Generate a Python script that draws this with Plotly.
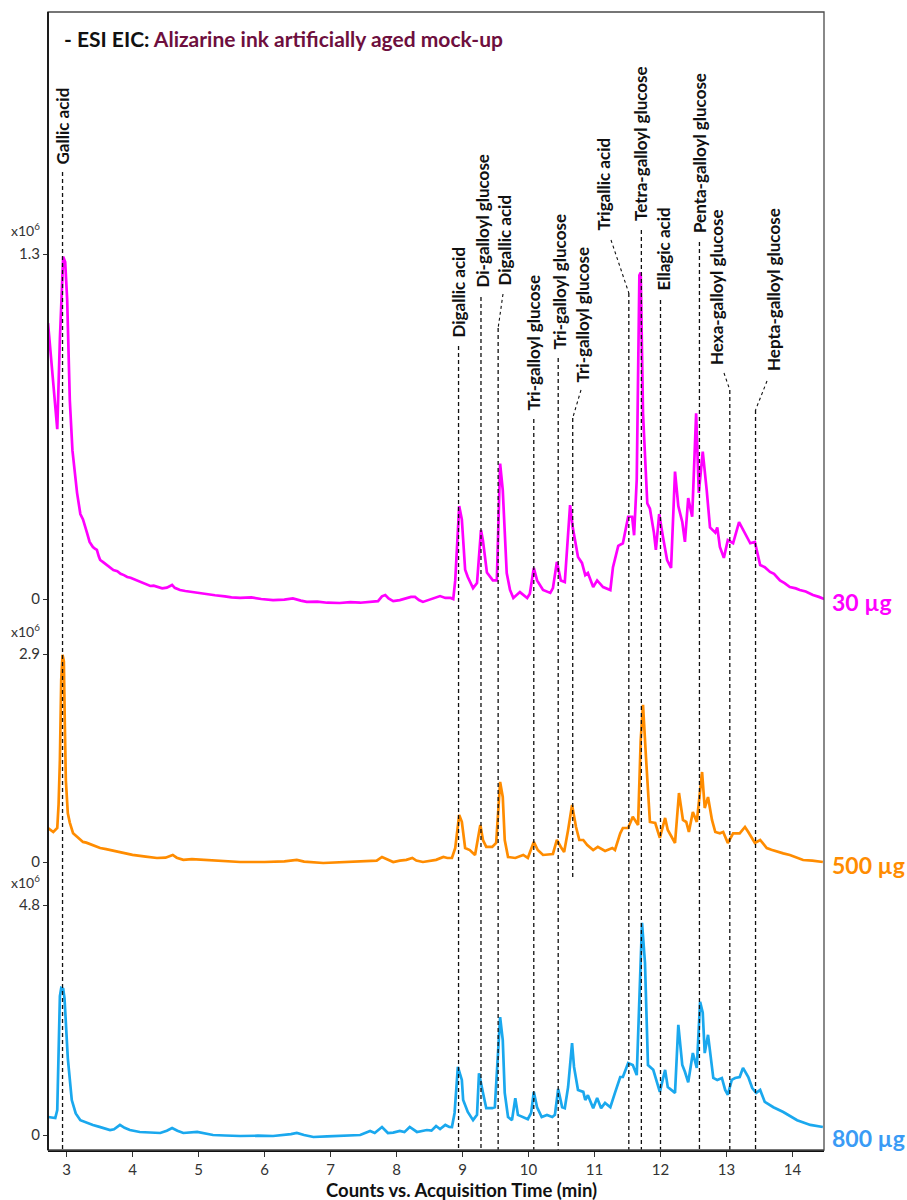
import plotly.graph_objects as go

# ---------------------------------------------------------------
# EIC traces: retention time (min), intensity (x10^6 counts)
# ---------------------------------------------------------------
eic_30ug = [
    (2.72, 1.04), (2.78, 0.86), (2.86, 0.64), (2.90, 0.98), (2.93, 1.22), (2.95, 1.29), (2.98, 1.27),
    (3.01, 1.13), (3.05, 0.75), (3.09, 0.56), (3.16, 0.40), (3.21, 0.32), (3.25, 0.30), (3.28, 0.27),
    (3.31, 0.25), (3.35, 0.215), (3.40, 0.196), (3.43, 0.19), (3.46, 0.185), (3.49, 0.16), (3.51, 0.147),
    (3.55, 0.14), (3.60, 0.13), (3.65, 0.122), (3.71, 0.109), (3.77, 0.105), (3.82, 0.095), (3.87, 0.09),
    (3.92, 0.083), (3.97, 0.08), (4.01, 0.076), (4.06, 0.07), (4.11, 0.064), (4.17, 0.06), (4.22, 0.052),
    (4.27, 0.049), (4.32, 0.05), (4.37, 0.045), (4.45, 0.04), (4.52, 0.043), (4.57, 0.05), (4.60, 0.053),
    (4.64, 0.042), (4.72, 0.034), (4.80, 0.03), (4.90, 0.026), (5.00, 0.022), (5.13, 0.019), (5.25, 0.014),
    (5.40, 0.01), (5.50, 0.006), (5.63, 0.004), (5.80, 0.006), (5.95, 0.0), (6.13, -0.004), (6.30, -0.002),
    (6.43, 0.002), (6.55, -0.006), (6.64, -0.011), (6.80, -0.01), (6.95, -0.014), (7.14, -0.015),
    (7.30, -0.012), (7.45, -0.014), (7.60, -0.011), (7.72, -0.008), (7.78, 0.01), (7.83, 0.015),
    (7.88, 0.002), (7.95, -0.008), (8.05, -0.004), (8.15, 0.002), (8.22, 0.008), (8.28, 0.008),
    (8.34, -0.004), (8.40, -0.011), (8.50, -0.002), (8.58, 0.006), (8.66, 0.011), (8.74, 0.004),
    (8.82, 0.004), (8.86, 0.0), (8.89, 0.07), (8.95, 0.35), (8.99, 0.30), (9.04, 0.11), (9.08, 0.083),
    (9.16, 0.041), (9.22, 0.06), (9.28, 0.26), (9.31, 0.22), (9.37, 0.10), (9.46, 0.07), (9.52, 0.07),
    (9.57, 0.51), (9.61, 0.41), (9.67, 0.098), (9.72, 0.034), (9.77, 0.004), (9.87, 0.026), (9.98, 0.004),
    (10.02, 0.02), (10.08, 0.117), (10.13, 0.07), (10.22, 0.034), (10.33, 0.023), (10.37, 0.041),
    (10.43, 0.14), (10.49, 0.07), (10.55, 0.064), (10.63, 0.354), (10.67, 0.27), (10.75, 0.158),
    (10.81, 0.136), (10.86, 0.09), (10.90, 0.098), (10.98, 0.045), (11.04, 0.07), (11.13, 0.045),
    (11.24, 0.034), (11.28, 0.12), (11.36, 0.20), (11.43, 0.21), (11.51, 0.31), (11.57, 0.31),
    (11.60, 0.24), (11.64, 0.45), (11.68, 1.22), (11.70, 1.23), (11.735, 0.70), (11.80, 0.36),
    (11.84, 0.34), (11.90, 0.25), (11.93, 0.185), (11.98, 0.32), (12.04, 0.23), (12.10, 0.147),
    (12.16, 0.117), (12.22, 0.48), (12.27, 0.35), (12.33, 0.29), (12.37, 0.215), (12.42, 0.38),
    (12.48, 0.31), (12.54, 0.70), (12.58, 0.40), (12.64, 0.555), (12.70, 0.41), (12.75, 0.27),
    (12.83, 0.25), (12.86, 0.27), (12.90, 0.196), (12.96, 0.155), (13.02, 0.222), (13.10, 0.21),
    (13.19, 0.29), (13.28, 0.25), (13.36, 0.21), (13.43, 0.215), (13.51, 0.128), (13.58, 0.12),
    (13.66, 0.102), (13.72, 0.095), (13.81, 0.07), (13.88, 0.06), (13.96, 0.045), (14.05, 0.04),
    (14.11, 0.034), (14.20, 0.028), (14.31, 0.015), (14.40, 0.008), (14.48, 0.0),
]

eic_500ug = [
    (2.72, 0.474), (2.80, 0.418), (2.86, 0.474), (2.88, 0.80), (2.90, 1.42), (2.92, 2.54), (2.94, 2.89),
    (2.96, 2.80), (2.975, 1.90), (2.99, 1.14), (3.02, 0.68), (3.05, 0.55), (3.10, 0.40), (3.15, 0.36),
    (3.20, 0.33), (3.25, 0.28), (3.30, 0.27), (3.40, 0.23), (3.51, 0.195), (3.60, 0.18), (3.70, 0.16),
    (3.86, 0.125), (4.00, 0.10), (4.20, 0.075), (4.37, 0.056), (4.50, 0.06), (4.61, 0.098), (4.67, 0.06),
    (4.77, 0.03), (4.90, 0.04), (5.13, 0.03), (5.30, 0.02), (5.63, 0.0), (6.00, 0.0), (6.30, 0.01),
    (6.49, 0.028), (6.60, 0.005), (6.89, -0.014), (7.10, -0.005), (7.40, 0.0), (7.60, 0.01), (7.70, 0.02),
    (7.78, 0.07), (7.87, 0.03), (7.95, 0.0), (8.05, 0.02), (8.15, 0.03), (8.24, 0.056), (8.30, 0.02),
    (8.40, 0.0), (8.50, 0.02), (8.60, 0.03), (8.71, 0.07), (8.77, 0.056), (8.84, 0.056), (8.89, 0.195),
    (8.95, 0.655), (8.99, 0.56), (9.04, 0.195), (9.11, 0.167), (9.19, 0.098), (9.27, 0.516), (9.31, 0.307),
    (9.36, 0.21), (9.45, 0.21), (9.51, 0.265), (9.57, 1.116), (9.61, 0.906), (9.64, 0.307), (9.69, 0.07),
    (9.80, 0.056), (9.92, 0.098), (9.99, 0.056), (10.08, 0.28), (10.14, 0.167), (10.22, 0.098),
    (10.37, 0.112), (10.43, 0.307), (10.49, 0.21), (10.54, 0.14), (10.60, 0.446), (10.66, 0.795),
    (10.72, 0.488), (10.77, 0.307), (10.83, 0.307), (10.89, 0.237), (10.98, 0.167), (11.05, 0.21),
    (11.16, 0.153), (11.27, 0.195), (11.31, 0.167), (11.39, 0.40), (11.43, 0.474), (11.51, 0.474),
    (11.58, 0.63), (11.66, 0.516), (11.70, 1.70), (11.735, 2.19), (11.78, 1.46), (11.84, 0.558),
    (11.92, 0.544), (11.99, 0.335), (12.07, 0.614), (12.11, 0.446), (12.22, 0.265), (12.28, 0.962),
    (12.34, 0.586), (12.39, 0.558), (12.43, 0.418), (12.49, 0.697), (12.55, 0.558), (12.63, 1.255),
    (12.67, 0.753), (12.72, 0.906), (12.78, 0.586), (12.83, 0.418), (12.90, 0.40), (12.95, 0.418),
    (13.02, 0.265), (13.10, 0.40), (13.20, 0.40), (13.28, 0.488), (13.33, 0.418), (13.43, 0.265),
    (13.51, 0.307), (13.61, 0.195), (13.68, 0.17), (13.77, 0.14), (13.86, 0.12), (13.96, 0.098),
    (14.05, 0.07), (14.16, 0.028), (14.30, 0.02), (14.46, 0.0),
]

eic_800ug = [
    (2.72, 0.376), (2.83, 0.355), (2.86, 0.52), (2.88, 1.77), (2.90, 2.90), (2.92, 3.07), (2.95, 3.05),
    (2.97, 2.85), (2.99, 2.30), (3.02, 1.60), (3.08, 0.73), (3.14, 0.45), (3.21, 0.31), (3.30, 0.26),
    (3.40, 0.21), (3.50, 0.17), (3.58, 0.13), (3.66, 0.104), (3.72, 0.12), (3.81, 0.21), (3.88, 0.15),
    (3.96, 0.104), (4.11, 0.063), (4.25, 0.055), (4.42, 0.042), (4.52, 0.09), (4.60, 0.146), (4.68, 0.09),
    (4.77, 0.042), (4.98, 0.063), (5.10, 0.03), (5.22, 0.0), (5.40, -0.01), (5.63, -0.021), (5.90, -0.015),
    (6.13, -0.021), (6.40, 0.02), (6.49, 0.042), (6.60, 0.0), (6.74, -0.042), (6.95, -0.03), (7.14, -0.021),
    (7.30, -0.02), (7.45, 0.0), (7.60, 0.084), (7.67, 0.042), (7.78, 0.167), (7.87, 0.042), (7.95, 0.05),
    (8.05, 0.084), (8.12, 0.06), (8.20, 0.167), (8.31, 0.063), (8.40, 0.08), (8.46, 0.104), (8.53, 0.09),
    (8.60, 0.188), (8.66, 0.125), (8.74, 0.21), (8.80, 0.17), (8.84, 0.167), (8.88, 0.46), (8.93, 1.42),
    (8.99, 1.15), (9.01, 0.73), (9.08, 0.48), (9.16, 0.31), (9.22, 0.42), (9.25, 1.29), (9.31, 0.88),
    (9.36, 0.56), (9.45, 0.56), (9.49, 0.58), (9.57, 2.46), (9.61, 1.98), (9.64, 0.88), (9.69, 0.376),
    (9.75, 0.31), (9.80, 0.77), (9.84, 0.42), (9.92, 0.376), (9.99, 0.33), (10.04, 0.46), (10.08, 0.90),
    (10.13, 0.58), (10.20, 0.376), (10.28, 0.42), (10.36, 0.376), (10.40, 0.42), (10.45, 0.96),
    (10.51, 0.58), (10.55, 0.56), (10.60, 1.00), (10.66, 1.92), (10.69, 1.42), (10.75, 0.94),
    (10.83, 0.90), (10.86, 0.73), (10.90, 0.83), (10.98, 0.56), (11.04, 0.77), (11.10, 0.56),
    (11.16, 0.67), (11.24, 0.58), (11.31, 0.88), (11.39, 1.21), (11.43, 1.21), (11.51, 1.50),
    (11.58, 1.46), (11.64, 1.25), (11.69, 3.24), (11.72, 4.43), (11.765, 3.59), (11.81, 1.46),
    (11.89, 1.36), (11.99, 0.90), (12.07, 1.36), (12.11, 1.00), (12.22, 0.88), (12.27, 2.30),
    (12.33, 1.46), (12.37, 1.32), (12.42, 1.10), (12.49, 1.71), (12.55, 1.40), (12.60, 2.78),
    (12.64, 2.55), (12.67, 1.71), (12.72, 2.09), (12.80, 1.19), (12.86, 1.15), (12.93, 1.19),
    (12.98, 0.94), (13.02, 0.84), (13.08, 1.15), (13.13, 1.19), (13.20, 1.21), (13.25, 1.40),
    (13.33, 1.21), (13.39, 0.98), (13.45, 0.88), (13.51, 0.94), (13.58, 0.69), (13.71, 0.58),
    (13.86, 0.48), (14.07, 0.31), (14.27, 0.21), (14.46, 0.167),
]

sample_labels = ["30 µg", "500 µg", "800 µg"]
panel_max = [1.3, 2.9, 4.8]          # top tick of each panel (x10^6)
x_ticks = list(range(3, 15))

# identified compounds and retention times (min)
compound_names = [
    "Gallic acid", "Digallic acid", "Di-galloyl glucose", "Digallic acid",
    "Tri-galloyl glucose", "Tri-galloyl glucose", "Tri-galloyl glucose",
    "Trigallic acid", "Tetra-galloyl glucose", "Ellagic acid",
    "Penta-galloyl glucose", "Hexa-galloyl glucose", "Hepta-galloyl glucose",
]
compound_rt = [2.94, 8.94, 9.28, 9.54, 10.08, 10.45, 10.67, 11.52, 11.71, 12.00, 12.59, 13.05, 13.44]

# ---------------------------------------------------------------
# page geometry (pixels)
# ---------------------------------------------------------------
W, H = 907, 1200
PL, PR, PT, PB = 48, 824, 12, 1150   # frame edges


def ypap(py):
    return (PB - py) / (PB - PT)


def xdat(px):
    return 3 + (px - 66.5) / 66.0


# panel: zero pixel, top-tick pixel, panel bottom pixel, panel top pixel
panel_px = [(599, 254, 610, PT), (862, 654, 870, 610), (1135, 905, PB, 870)]
colors = ["#FF00FF", "#FF8C00", "#1AA8EE"]
label_colors = ["#FF00FF", "#FF8C00", "#3A9BF5"]

fig = go.Figure()
series = [eic_30ug, eic_500ug, eic_800ug]
for k, data in enumerate(series):
    t, v = zip(*data)
    fig.add_trace(go.Scatter(
        x=list(t), y=list(v), mode="lines",
        line=dict(color=colors[k], width=2.7),
        xaxis="x", yaxis="y" if k == 0 else f"y{k + 1}",
        showlegend=False, hoverinfo="skip",
    ))

FONT = "Lato"
tick_font = dict(family=FONT, size=15, color="#333333")

layout_axes = {}
annotations = []
for k, (zero_px, top_px, bot_px, hi_px) in enumerate(panel_px):
    per_px = panel_max[k] / (zero_px - top_px)
    lo = (zero_px - bot_px) * per_px
    hi = (zero_px - hi_px) * per_px
    name = "yaxis" if k == 0 else f"yaxis{k + 1}"
    layout_axes[name] = dict(
        domain=[ypap(bot_px), ypap(hi_px)], range=[lo, hi], anchor="x",
        tickvals=[0, panel_max[k]], ticktext=["0", f"{panel_max[k]:.1f}"],
        ticks="outside", ticklen=4, tickcolor="#333333", tickwidth=1,
        showline=False, showgrid=False, zeroline=False, tickfont=tick_font,
    )
    # exponent marker above the top tick
    annotations.append(dict(
        xref="paper", yref="paper", x=-6 / (PR - PL), y=ypap(top_px - 24),
        xanchor="right", yanchor="middle", showarrow=False,
        text="x10<sup>6</sup>", font=dict(family=FONT, size=14, color="#333333"),
    ))
    # sample amount label on the right
    annotations.append(dict(
        xref="paper", yref="paper", x=(830 - PL) / (PR - PL), y=ypap(zero_px + 3),
        xanchor="left", yanchor="middle", showarrow=False,
        text=sample_labels[k],
        font=dict(family=FONT, size=23, color=label_colors[k], weight="bold"),
    ))

# label placement: (label x px, label bottom px, leader start px or None, line start px, line end px)
label_place = [
    (62, 167, None, 172, PB),
    (458, 340, None, 346, PB),
    (482, 290, None, 297, PB),
    (504, 288, (503, 294), 328, PB),
    (533, 413, None, 419, PB),
    (559, 352, None, 358, PB),
    (582, 385, (581, 390), 418, 878),
    (603, 233, (611, 240), 293, PB),
    (640.5, 223, None, 230, PB),
    (663, 293, None, 300, PB),
    (700, 235, None, 242, PB),
    (716, 367, (724, 373), 390, PB),
    (773.5, 373, (767, 381), 410, PB),
]

shapes = []
dash_style = dict(color="#111111", width=1.3, dash="4px,3px")
for name, rt, (lx, lb, lead, ls, le) in zip(compound_names, compound_rt, label_place):
    annotations.append(dict(
        xref="x", yref="paper", x=xdat(lx), y=ypap(lb),
        xanchor="center", yanchor="bottom", showarrow=False, textangle=-90,
        text=name, font=dict(family=FONT, size=17, color="#111111", weight="bold"),
    ))
    if lead is not None:
        shapes.append(dict(type="line", xref="x", yref="paper",
                           x0=xdat(lead[0]), y0=ypap(lead[1]), x1=rt, y1=ypap(ls),
                           line=dict(color="#111111", width=1.1, dash="3px,3px")))
    shapes.append(dict(type="line", xref="x", yref="paper",
                       x0=rt, y0=ypap(ls), x1=rt, y1=ypap(le), line=dash_style))

# frame and left axis line
shapes.append(dict(type="rect", xref="paper", yref="paper", x0=0, y0=0, x1=1, y1=1,
                   line=dict(color="#4a4a4a", width=1.3), layer="above"))
shapes.append(dict(type="line", xref="paper", yref="paper", x0=0, y0=0, x1=0, y1=1,
                   line=dict(color="#111111", width=1.8), layer="above"))

# header line
annotations.append(dict(
    xref="paper", yref="paper", x=(62 - PL) / (PR - PL), y=ypap(39),
    xanchor="left", yanchor="middle", showarrow=False,
    text="- ESI EIC: <span style='color:#6E0F3E'>Alizarine ink artificially aged mock-up</span>",
    font=dict(family=FONT, size=21, color="#111111", weight="bold"),
))
# x-axis title
annotations.append(dict(
    xref="paper", yref="paper", x=(461 - PL) / (PR - PL), y=ypap(1190),
    xanchor="center", yanchor="middle", showarrow=False,
    text="Counts vs. Acquisition Time (min)",
    font=dict(family=FONT, size=18.5, color="#111111", weight="bold"),
))

fig.update_layout(
    width=W, height=H,
    margin=dict(l=PL, r=W - PR, t=PT, b=H - PB, pad=0),
    paper_bgcolor="white", plot_bgcolor="white",
    xaxis=dict(
        domain=[0, 1], range=[xdat(PL), xdat(PR)], anchor="y3",
        tickvals=x_ticks, ticks="outside", ticklen=5, tickcolor="#333333",
        showline=True, linecolor="#111111", linewidth=1.8, mirror=False,
        showgrid=False, zeroline=False, tickfont=tick_font,
    ),
    shapes=shapes,
    annotations=annotations,
    **layout_axes,
)

fig.write_html("out.html")
